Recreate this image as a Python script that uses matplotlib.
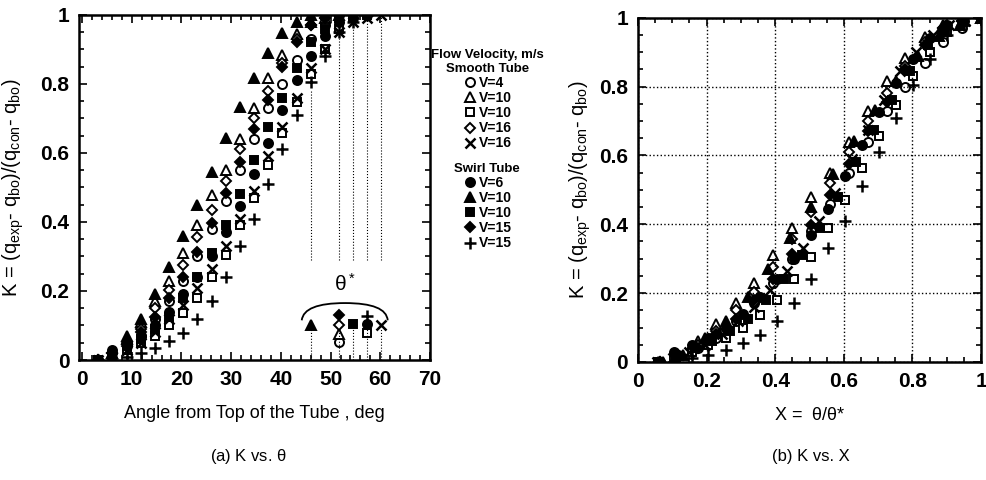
import numpy as np
import matplotlib.pyplot as plt
from matplotlib.path import Path
from matplotlib.patches import PathPatch

plt.rcParams['font.family'] = ['Liberation Sans', 'DejaVu Sans']
plt.rcParams['mathtext.fontset'] = 'custom'
plt.rcParams['mathtext.rm'] = 'Liberation Sans'
plt.rcParams['mathtext.it'] = 'Liberation Sans:italic'
plt.rcParams['mathtext.default'] = 'regular'

# thermocouple angles from top of tube, deg
angles = [3.3, 6.1, 9.0, 11.8, 14.7, 17.5, 20.4, 23.2, 26.1, 28.9, 31.8,
          34.6, 37.5, 40.3, 43.2, 46.0, 48.8, 51.7, 54.5, 57.4, 60.2]

# smooth tube
k_smooth_v4 = [0.0, 0.02, 0.04, 0.07, 0.12, 0.17, 0.23, 0.30, 0.38, 0.46, 0.55,
               0.64, 0.73, 0.80, 0.87, 0.93, 0.97, 1.0]
k_smooth_v10a = [0.0, 0.02, 0.06, 0.11, 0.17, 0.23, 0.31, 0.39, 0.478, 0.55, 0.64,
                 0.73, 0.817, 0.884, 0.945, 0.98, 0.99, 1.0]
k_smooth_v10b = [0.0, 0.01, 0.03, 0.05, 0.07, 0.10, 0.136, 0.18, 0.24, 0.305, 0.39,
                 0.47, 0.564, 0.657, 0.747, 0.83, 0.90, 0.96, 0.99, 1.0]
k_smooth_v16a = [0.0, 0.02, 0.05, 0.09, 0.15, 0.203, 0.275, 0.357, 0.435, 0.52, 0.61,
                 0.70, 0.78, 0.86, 0.93, 0.97, 0.99, 1.0]
k_smooth_v16b = [0.0, 0.01, 0.03, 0.05, 0.08, 0.12, 0.16, 0.21, 0.265, 0.33, 0.41,
                 0.49, 0.59, 0.675, 0.76, 0.846, 0.90, 0.95, 0.98, 0.99, 1.0]

# swirl tube
k_swirl_v6 = [0.0, 0.03, 0.05, 0.07, 0.10, 0.14, 0.19, 0.24, 0.30, 0.37, 0.445,
              0.54, 0.63, 0.725, 0.81, 0.88, 0.94, 0.98, 0.99, 1.0]
k_swirl_v10a = [0.0, 0.02, 0.07, 0.12, 0.19, 0.27, 0.36, 0.45, 0.545, 0.643, 0.733,
                0.817, 0.89, 0.947, 0.98, 1.0]
k_swirl_v10b = [0.0, 0.01, 0.04, 0.06, 0.09, 0.125, 0.18, 0.24, 0.31, 0.39, 0.48,
                0.58, 0.675, 0.76, 0.846, 0.92, 0.96, 0.99, 1.0]
k_swirl_v15a = [0.0, 0.02, 0.04, 0.08, 0.125, 0.18, 0.24, 0.313, 0.397, 0.484, 0.575,
                0.67, 0.754, 0.85, 0.92, 0.97, 0.99, 1.0]
k_swirl_v15b = [0.0, 0.0, 0.01, 0.02, 0.035, 0.055, 0.078, 0.12, 0.17, 0.24, 0.33,
                0.41, 0.51, 0.61, 0.71, 0.806, 0.88, 0.95, 0.98, 1.0]

# theta* (angle where K reaches 1) and height of the marker in the theta* inset
theta_star = [51.7, 51.7, 57.4, 51.7, 60.2, 57.4, 46.0, 54.5, 51.7, 57.4]
inset_k = [0.052, 0.076, 0.078, 0.101, 0.10, 0.104, 0.10, 0.104, 0.13, 0.128]

labels = ['V=4', 'V=10', 'V=10', 'V=16', 'V=16', 'V=6', 'V=10', 'V=10', 'V=15', 'V=15']
markers = ['o', '^', 's', 'D', 'x', 'o', '^', 's', 'D', '+']
filled = [False] * 5 + [True] * 5
series = [k_smooth_v4, k_smooth_v10a, k_smooth_v10b, k_smooth_v16a, k_smooth_v16b,
          k_swirl_v6, k_swirl_v10a, k_swirl_v10b, k_swirl_v15a, k_swirl_v15b]


def marker_style(m, f):
    size = {'o': 6.5, '^': 7, 's': 6, 'D': 5.5, 'x': 6.5, '+': 8}[m]
    st = dict(marker=m, ms=size, ls='none', mec='black', mew=1.4)
    if m in ('x', '+'):
        st['mew'] = 1.8
        st['color'] = 'black'
    else:
        st['mfc'] = 'black' if f else 'white'
    return st


fig = plt.figure(figsize=(9.86, 4.8), dpi=100)
ax1 = fig.add_axes([0.0801, 0.25, 0.356, 0.719])
ax2 = fig.add_axes([0.647, 0.246, 0.348, 0.717])

handles = []
for k, m, f, lab, ts in zip(series, markers, filled, labels, theta_star):
    th = np.array(angles[:len(k)])
    h, = ax1.plot(th, k, label=lab, **marker_style(m, f))
    handles.append(h)
    ax2.plot(th / ts, k, **marker_style(m, f))

# theta* inset: markers with dotted guide lines
for ts, yk, m, f in zip(theta_star, inset_k, markers, filled):
    ax1.plot([ts], [yk], **marker_style(m, f))
lines_x = sorted(set(theta_star))
ax1.vlines(lines_x, 0, 0.09, colors='black', linestyles=':', lw=0.8)
for x in lines_x:
    top = 0.78 if x < 47 else 1.0
    ax1.vlines(x, 0.29, top, colors='black', linestyles=':', lw=0.8)

brace = Path([(44.2, 0.115), (44.6, 0.165), (52.9, 0.165),
              (52.9, 0.165), (61.2, 0.165), (61.5, 0.115)],
             [Path.MOVETO, Path.CURVE3, Path.CURVE3,
              Path.MOVETO, Path.CURVE3, Path.CURVE3])
ax1.add_patch(PathPatch(brace, fc='none', ec='black', lw=1.3))
ax1.text(52.9, 0.19, r'$\theta^*$', ha='center', va='bottom', fontsize=15)

ylab = r'K = (q$_{exp}$- q$_{bo}$)/(q$_{con}$- q$_{bo}$)'
tick_font = dict(fontsize=15, fontweight='bold')

ax1.set_xlim(-0.6, 70)
ax1.set_ylim(0, 1)
ax1.set_xticks(range(0, 71, 10))
ax1.set_xticks(np.arange(0, 70, 2), minor=True)
ax1.set_yticks(np.arange(0, 1.01, 0.2))
ax1.set_yticks(np.arange(0, 1.0, 0.05), minor=True)
ax1.set_yticklabels(['0', '0.2', '0.4', '0.6', '0.8', '1'], **tick_font)
ax1.set_xticklabels([str(v) for v in range(0, 71, 10)], **tick_font)
ax1.set_xlabel('Angle from Top of the Tube , deg', fontsize=13, labelpad=12)
ax1.set_ylabel(ylab, fontsize=14.5)
ax1.yaxis.set_label_coords(-0.15, 0.5)

ax2.set_xlim(0, 1)
ax2.set_ylim(0, 1)
ax2.set_xticks(np.arange(0, 1.01, 0.2))
ax2.set_xticks(np.arange(0, 1.0, 0.05), minor=True)
ax2.set_yticks(np.arange(0, 1.01, 0.2))
ax2.set_yticks(np.arange(0, 1.0, 0.05), minor=True)
ax2.set_xticklabels(['0', '0.2', '0.4', '0.6', '0.8', '1'], **tick_font)
ax2.set_yticklabels(['0', '0.2', '0.4', '0.6', '0.8', '1'], **tick_font)
ax2.grid(True, which='major', color='black', ls=':', lw=1.0)
ax2.set_xlabel(r'X =  $\theta$/$\theta$*', fontsize=13, labelpad=12)
ax2.set_ylabel(ylab, fontsize=14.5)
ax2.yaxis.set_label_coords(-0.13, 0.5)

for ax in (ax1, ax2):
    ax.tick_params(which='both', direction='in', top=True, right=True, width=1.2)
    ax.tick_params(which='major', length=6, pad=7)
    ax.tick_params(which='minor', length=3.5)
    for s in ax.spines.values():
        s.set_linewidth(1.8)
    ax.set_axisbelow(False)

leg_font = dict(size=10, weight='bold')
leg_kw = dict(loc='upper center', frameon=False, prop=leg_font,
              title_fontproperties=dict(size=9.5, weight='bold'),
              handletextpad=0.15, labelspacing=0.08, borderpad=0.1,
              handlelength=1.0)
leg1 = fig.legend(handles[:5], labels[:5], bbox_to_anchor=(0.494, 0.915),
                  title='Flow Velocity, m/s\nSmooth Tube', **leg_kw)
leg1.get_title().set_multialignment('center')
leg2 = fig.legend(handles[5:], labels[5:], bbox_to_anchor=(0.494, 0.678),
                  title='Swirl Tube', **leg_kw)

fig.text(0.252, 0.04, r'(a) K vs. $\theta$', ha='center', fontsize=12)
fig.text(0.822, 0.04, '(b) K vs. X', ha='center', fontsize=12)

fig.savefig('out.png', dpi=100)
